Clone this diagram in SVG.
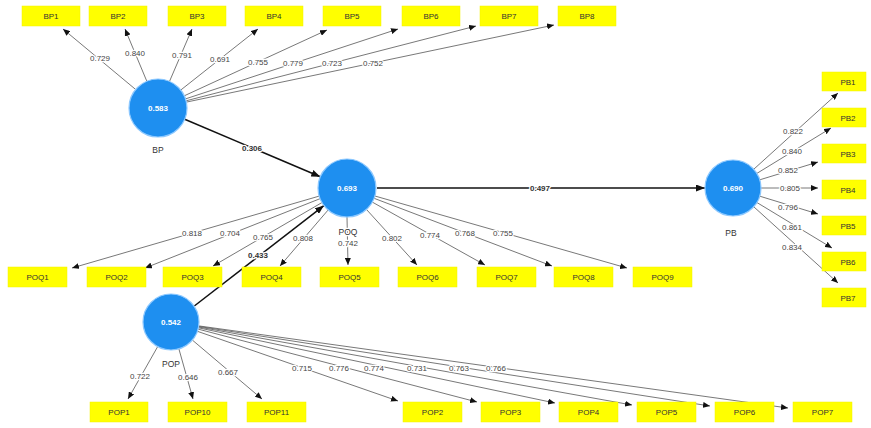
<svg xmlns="http://www.w3.org/2000/svg" width="871" height="428" viewBox="0 0 871 428">
<style>
.box{fill:#ffff00;stroke:#f2f200;stroke-width:0.5}
.bt{font-family:"Liberation Sans",Arial,sans-serif;font-size:8px;fill:#333;text-anchor:middle}
.lv{fill:#1e8ff0;stroke:#8cc8ff;stroke-width:1.2}
.vt{font-family:"Liberation Sans",Arial,sans-serif;font-size:8px;font-weight:bold;fill:#fff;text-anchor:middle}
.nt{font-family:"Liberation Sans",Arial,sans-serif;font-size:8.5px;fill:#333;text-anchor:middle}
.ld{stroke:#555;stroke-width:0.8;fill:none;marker-end:url(#ah)}
.st{stroke:#111;stroke-width:1.5;fill:none;marker-end:url(#ah2)}
.lb{font-family:"Liberation Sans",Arial,sans-serif;font-size:8px;fill:#444;text-anchor:middle;stroke:#fff;stroke-width:2.5;paint-order:stroke;stroke-linejoin:round}
.sb{font-family:"Liberation Sans",Arial,sans-serif;font-size:8px;font-weight:bold;fill:#333;text-anchor:middle;stroke:#fff;stroke-width:2.5;paint-order:stroke;stroke-linejoin:round}
</style>
<defs>
<marker id="ah" markerWidth="7" markerHeight="6" refX="7" refY="3" orient="auto" markerUnits="userSpaceOnUse"><path d="M0,0 L7,3 L0,6 z" fill="#111"/></marker>
<marker id="ah2" markerWidth="9" markerHeight="7" refX="9" refY="3.5" orient="auto" markerUnits="userSpaceOnUse"><path d="M0,0 L9,3.5 L0,7 z" fill="#111"/></marker>
</defs>
<rect width="871" height="428" fill="#fff"/>
<g id="connectors">
<line class="ld" x1="135.7" y1="89.5" x2="63" y2="29"/>
<line class="ld" x1="146.8" y1="81.2" x2="125" y2="29"/>
<line class="ld" x1="169.5" y1="81.4" x2="192" y2="29"/>
<line class="ld" x1="180.8" y1="90" x2="258" y2="29"/>
<line class="ld" x1="184.3" y1="95.8" x2="327" y2="30"/>
<line class="ld" x1="185.5" y1="98.9" x2="398" y2="29"/>
<line class="ld" x1="186.1" y1="100.8" x2="476" y2="26"/>
<line class="ld" x1="186.4" y1="102.1" x2="554" y2="25"/>
<line class="ld" x1="319.2" y1="196.1" x2="72" y2="268"/>
<line class="ld" x1="320" y1="198.7" x2="145" y2="268"/>
<line class="ld" x1="321.9" y1="202.6" x2="213" y2="266"/>
<line class="ld" x1="328.1" y1="210" x2="280" y2="266"/>
<line class="ld" x1="347" y1="217" x2="348" y2="265"/>
<line class="ld" x1="366.5" y1="209.5" x2="417" y2="265"/>
<line class="ld" x1="372.3" y1="202.1" x2="485" y2="265"/>
<line class="ld" x1="374.1" y1="198.3" x2="552" y2="266"/>
<line class="ld" x1="374.9" y1="196" x2="627" y2="268"/>
<line class="ld" x1="753.8" y1="169.2" x2="838" y2="93"/>
<line class="ld" x1="756.9" y1="173.4" x2="831" y2="128"/>
<line class="ld" x1="759.8" y1="179.8" x2="818" y2="162"/>
<line class="ld" x1="761" y1="188" x2="818" y2="188"/>
<line class="ld" x1="759.8" y1="196.2" x2="818" y2="214"/>
<line class="ld" x1="756.9" y1="202.5" x2="832" y2="248"/>
<line class="ld" x1="753.8" y1="206.8" x2="838" y2="283"/>
<line class="ld" x1="157.7" y1="346.6" x2="128" y2="399"/>
<line class="ld" x1="178.9" y1="348.9" x2="193" y2="399"/>
<line class="ld" x1="192.4" y1="340.1" x2="262" y2="399"/>
<line class="ld" x1="197.4" y1="331.3" x2="398" y2="401"/>
<line class="ld" x1="198.1" y1="329.1" x2="477" y2="402"/>
<line class="ld" x1="198.4" y1="327.8" x2="555" y2="403"/>
<line class="ld" x1="198.6" y1="327" x2="632" y2="405"/>
<line class="ld" x1="198.7" y1="326.4" x2="710" y2="406"/>
<line class="ld" x1="198.7" y1="325.9" x2="788" y2="408"/>
<line class="st" x1="184.7" y1="119.3" x2="320.3" y2="176.7"/>
<line class="st" x1="377" y1="188" x2="705" y2="188"/>
<line class="st" x1="194.3" y1="306" x2="323.9" y2="205.6"/>
<text class="lb" x="100" y="61">0.729</text>
<text class="lb" x="135" y="56">0.840</text>
<text class="lb" x="182" y="58">0.791</text>
<text class="lb" x="220" y="62">0.691</text>
<text class="lb" x="258" y="65">0.755</text>
<text class="lb" x="293" y="66">0.779</text>
<text class="lb" x="332" y="66">0.723</text>
<text class="lb" x="373" y="66">0.752</text>
<text class="lb" x="192" y="236">0.818</text>
<text class="lb" x="230" y="236">0.704</text>
<text class="lb" x="263" y="240">0.765</text>
<text class="lb" x="303" y="241">0.808</text>
<text class="lb" x="348" y="246">0.742</text>
<text class="lb" x="392" y="241">0.802</text>
<text class="lb" x="430" y="238">0.774</text>
<text class="lb" x="465" y="236">0.768</text>
<text class="lb" x="503" y="236">0.755</text>
<text class="lb" x="793" y="134">0.822</text>
<text class="lb" x="792" y="154">0.840</text>
<text class="lb" x="788" y="173">0.852</text>
<text class="lb" x="790" y="191">0.805</text>
<text class="lb" x="788" y="210">0.796</text>
<text class="lb" x="792" y="230">0.861</text>
<text class="lb" x="792" y="250">0.834</text>
<text class="lb" x="140" y="379">0.722</text>
<text class="lb" x="188" y="380">0.646</text>
<text class="lb" x="228" y="375">0.667</text>
<text class="lb" x="302" y="371">0.715</text>
<text class="lb" x="339" y="371">0.776</text>
<text class="lb" x="374" y="371">0.774</text>
<text class="lb" x="417" y="371">0.731</text>
<text class="lb" x="459" y="371">0.763</text>
<text class="lb" x="496" y="371">0.766</text>
<text class="sb" x="252" y="151">0.306</text>
<text class="sb" x="540" y="191">0.497</text>
<text class="sb" x="258" y="258">0.433</text>
</g>
<g id="BP"><circle class="lv" cx="158" cy="108" r="29"/><text class="vt" x="158" y="111">0.583</text><text class="nt" x="158" y="153">BP</text></g>
<g id="POQ"><circle class="lv" cx="347" cy="188" r="29"/><text class="vt" x="347" y="191">0.693</text><text class="nt" x="348" y="235" style="stroke:#fff;stroke-width:2.5;paint-order:stroke">POQ</text></g>
<g id="PB"><circle class="lv" cx="733" cy="188" r="28"/><text class="vt" x="733" y="191">0.690</text><text class="nt" x="731" y="236">PB</text></g>
<g id="POP"><circle class="lv" cx="171" cy="322" r="28"/><text class="vt" x="171" y="325">0.542</text><text class="nt" x="171" y="367" style="stroke:#fff;stroke-width:2.5;paint-order:stroke">POP</text></g>
<g id="BP1"><rect class="box" x="22" y="6" width="58" height="20"/><text class="bt" x="51" y="19">BP1</text></g>
<g id="BP2"><rect class="box" x="89" y="6" width="58" height="20"/><text class="bt" x="118" y="19">BP2</text></g>
<g id="BP3"><rect class="box" x="168" y="6" width="58" height="20"/><text class="bt" x="197" y="19">BP3</text></g>
<g id="BP4"><rect class="box" x="245" y="6" width="58" height="20"/><text class="bt" x="274" y="19">BP4</text></g>
<g id="BP5"><rect class="box" x="323" y="6" width="58" height="20"/><text class="bt" x="352" y="19">BP5</text></g>
<g id="BP6"><rect class="box" x="402" y="6" width="58" height="20"/><text class="bt" x="431" y="19">BP6</text></g>
<g id="BP7"><rect class="box" x="480" y="6" width="58" height="20"/><text class="bt" x="509" y="19">BP7</text></g>
<g id="BP8"><rect class="box" x="558" y="6" width="58" height="20"/><text class="bt" x="587" y="19">BP8</text></g>
<g id="POQ1"><rect class="box" x="8" y="267" width="59" height="20"/><text class="bt" x="37.5" y="280">POQ1</text></g>
<g id="POQ2"><rect class="box" x="87" y="267" width="59" height="20"/><text class="bt" x="116.5" y="280">POQ2</text></g>
<g id="POQ3"><rect class="box" x="163" y="267" width="59" height="20"/><text class="bt" x="192.5" y="280">POQ3</text></g>
<g id="POQ4"><rect class="box" x="242" y="267" width="59" height="20"/><text class="bt" x="271.5" y="280">POQ4</text></g>
<g id="POQ5"><rect class="box" x="320" y="267" width="59" height="20"/><text class="bt" x="349.5" y="280">POQ5</text></g>
<g id="POQ6"><rect class="box" x="398" y="267" width="59" height="20"/><text class="bt" x="427.5" y="280">POQ6</text></g>
<g id="POQ7"><rect class="box" x="477" y="267" width="59" height="20"/><text class="bt" x="506.5" y="280">POQ7</text></g>
<g id="POQ8"><rect class="box" x="554" y="267" width="59" height="20"/><text class="bt" x="583.5" y="280">POQ8</text></g>
<g id="POQ9"><rect class="box" x="633" y="267" width="59" height="20"/><text class="bt" x="662.5" y="280">POQ9</text></g>
<g id="PB1"><rect class="box" x="822" y="72" width="44" height="19"/><text class="bt" x="848" y="84.5">PB1</text></g>
<g id="PB2"><rect class="box" x="822" y="108" width="44" height="19"/><text class="bt" x="848" y="120.5">PB2</text></g>
<g id="PB3"><rect class="box" x="822" y="144" width="44" height="19"/><text class="bt" x="848" y="156.5">PB3</text></g>
<g id="PB4"><rect class="box" x="822" y="180" width="44" height="19"/><text class="bt" x="848" y="192.5">PB4</text></g>
<g id="PB5"><rect class="box" x="822" y="216" width="44" height="19"/><text class="bt" x="848" y="228.5">PB5</text></g>
<g id="PB6"><rect class="box" x="822" y="252" width="44" height="19"/><text class="bt" x="848" y="264.5">PB6</text></g>
<g id="PB7"><rect class="box" x="822" y="288" width="44" height="19"/><text class="bt" x="848" y="300.5">PB7</text></g>
<g id="POP1"><rect class="box" x="90" y="402" width="58" height="20"/><text class="bt" x="119" y="415">POP1</text></g>
<g id="POP10"><rect class="box" x="168" y="402" width="59" height="20"/><text class="bt" x="197.5" y="415">POP10</text></g>
<g id="POP11"><rect class="box" x="247" y="402" width="59" height="20"/><text class="bt" x="276.5" y="415">POP11</text></g>
<g id="POP2"><rect class="box" x="403" y="402" width="59" height="20"/><text class="bt" x="432.5" y="415">POP2</text></g>
<g id="POP3"><rect class="box" x="481" y="402" width="59" height="20"/><text class="bt" x="510.5" y="415">POP3</text></g>
<g id="POP4"><rect class="box" x="559" y="402" width="59" height="20"/><text class="bt" x="588.5" y="415">POP4</text></g>
<g id="POP5"><rect class="box" x="637" y="402" width="59" height="20"/><text class="bt" x="666.5" y="415">POP5</text></g>
<g id="POP6"><rect class="box" x="715" y="402" width="59" height="20"/><text class="bt" x="744.5" y="415">POP6</text></g>
<g id="POP7"><rect class="box" x="793" y="402" width="59" height="20"/><text class="bt" x="822.5" y="415">POP7</text></g>
</svg>
